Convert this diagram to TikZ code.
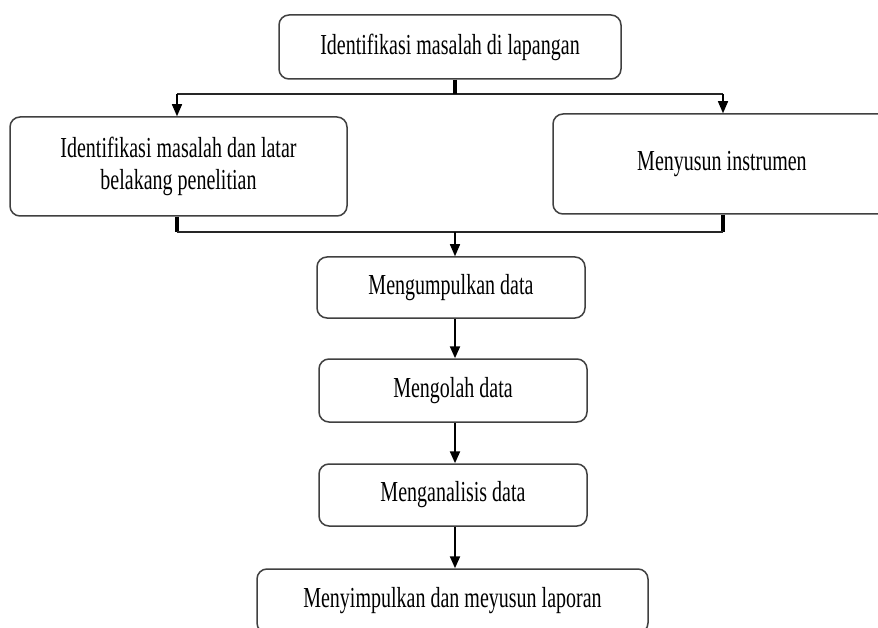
\documentclass[tikz,border=0pt]{standalone}
\usepackage{fontspec}
\setmainfont{Liberation Serif}[FakeStretch=0.69]
\usetikzlibrary{arrows.meta,calc}
\begin{document}
\begin{tikzpicture}[x=1pt,y=-1pt,
  box/.style={draw=black!75,line width=1.5pt,rounded corners=10pt,fill=white,inner sep=0pt,align=center,font=\fontsize{29}{32}\selectfont},
  conn/.style={draw=black!85,line width=1.4pt},
  stemline/.style={draw=black,line width=4pt},
  arr/.style={draw=black,line width=1.4pt,-{Triangle[width=10pt,length=12pt]}},
  varr/.style={draw=black,line width=2.2pt,-{Triangle[width=10pt,length=12pt]}}]
\clip (0,0) rectangle (878,628);
\fill[white] (0,0) rectangle (878,628);

\node[box,minimum width=342,minimum height=64] (top) at (450,47) {Identifikasi masalah di lapangan};
\node[box,minimum width=337,minimum height=99] (left) at (178.5,166.5) {Identifikasi masalah dan latar\\belakang penelitian};
\node[box,minimum width=338,minimum height=100] (right) at (722,164) {Menyusun instrumen};
\node[box,minimum width=268,minimum height=61] (collect) at (451,287.5) {Mengumpulkan data};
\node[box,minimum width=268,minimum height=63] (process) at (453,390.5) {Mengolah data};
\node[box,minimum width=268,minimum height=62] (analyse) at (453,495) {Menganalisis data};
\node[box,minimum width=391,minimum height=64] (conclude) at (452.5,601) {Menyimpulkan dan meyusun laporan};

\coordinate (j1) at (455,94);
\coordinate (hl) at (177,94);
\coordinate (hr) at (723,94);
\coordinate (bl) at (177,232);
\coordinate (br) at (723,232);
\coordinate (j2) at (455,232);

\draw[conn] (hl) -- (hr);
\draw[stemline] (top.south -| j1) -- (j1);
\draw[arr] (hl) -- (hl |- left.north);
\draw[arr] (hr) -- (hr |- right.north);

\draw[stemline] (bl |- left.south) -- (bl);
\draw[stemline] (br |- right.south) -- (br);
\draw[conn] (bl) -- (br);
\draw[arr] (j2) -- (j2 |- collect.north);

\draw[varr] (collect.south -| j2) -- (process.north -| j2);
\draw[varr] (process.south -| j2) -- (analyse.north -| j2);
\draw[varr] (analyse.south -| j2) -- (conclude.north -| j2);
\end{tikzpicture}
\end{document}
